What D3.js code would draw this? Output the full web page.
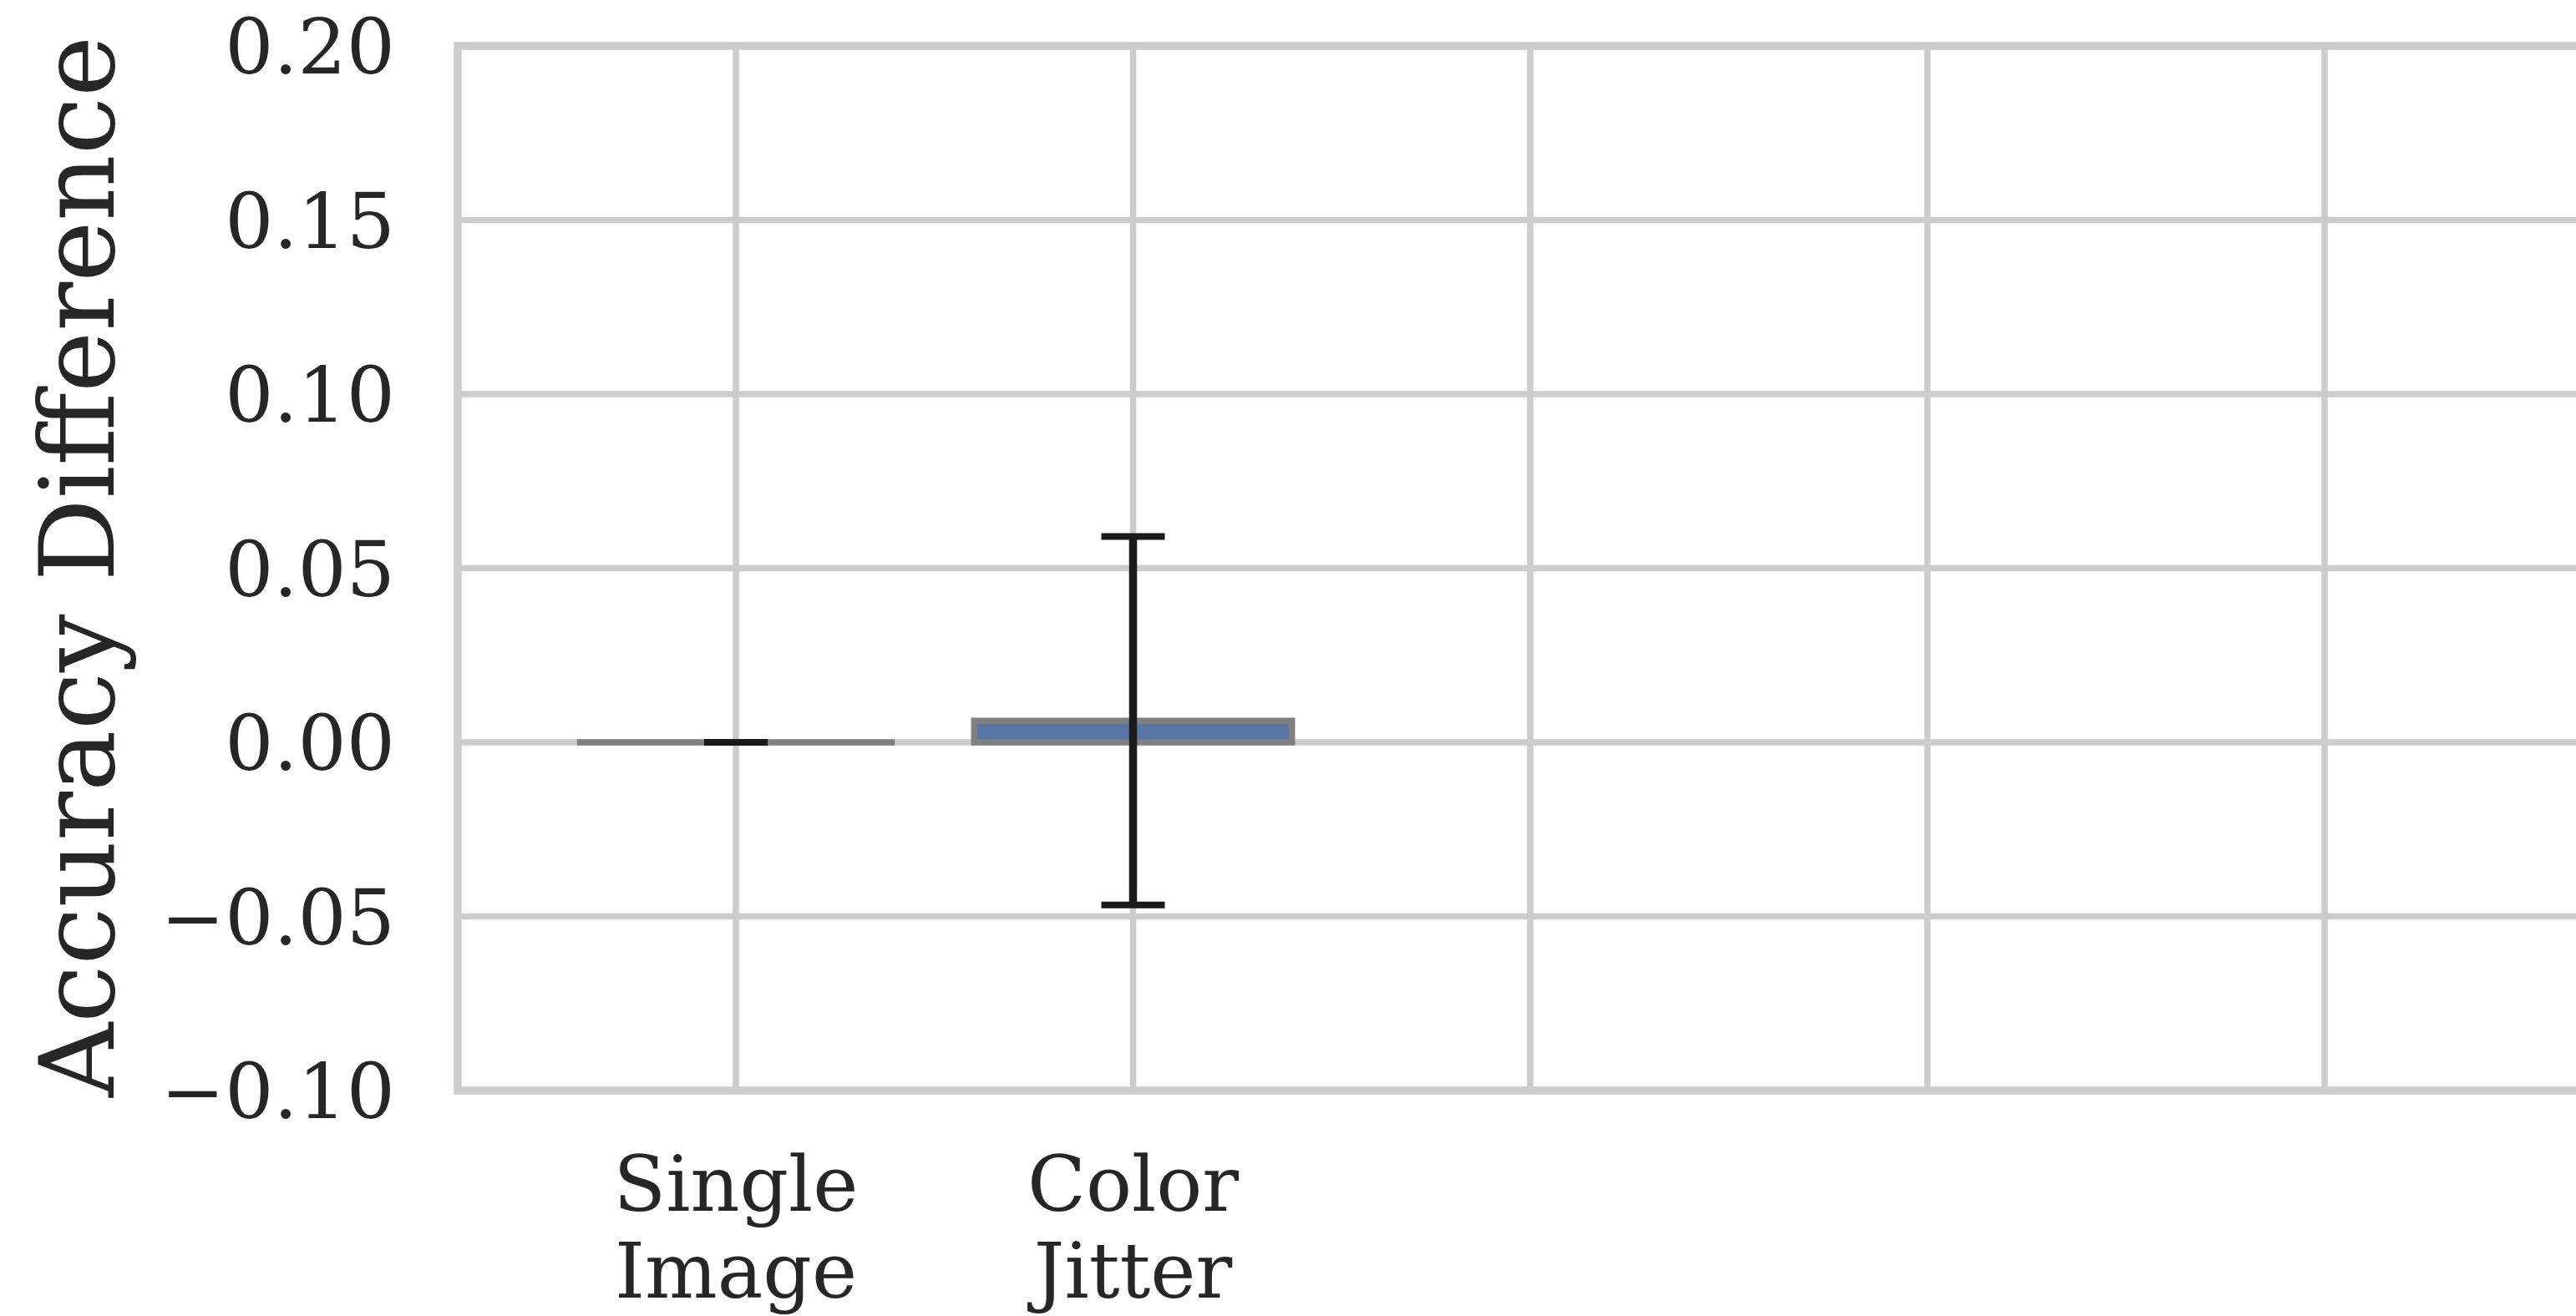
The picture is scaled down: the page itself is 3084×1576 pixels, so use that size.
<!DOCTYPE html>
<html>
<head>
<meta charset="utf-8">
<script src="https://cdn.jsdelivr.net/npm/d3@7"></script>
<style>
  html, body { margin: 0; padding: 0; background: #ffffff; }
  svg { display: block; }
</style>
</head>
<body>
<script>
// ---- data ----
const categories = ["Single Image", "Color Jitter", "cat3", "cat4", "cat5", "cat6"];
const tickLabels = ["Single\nImage", "Color\nJitter", "", "", "", ""];
const barCategories = ["Single Image", "Color Jitter"];
const barValues = [0.0, 0.0062];
const ciLow = [0.0, -0.0467];
const ciHigh = [0.0, 0.0591];
const yTicks = [-0.10, -0.05, 0.00, 0.05, 0.10, 0.15, 0.20];
const yLabel = "Accuracy Difference";

// ---- layout ----
const W = 3084, H = 1576;
const plotLeft = 548, plotTop = 55, plotBottom = 1306;
const step = 475.5;
const firstCenter = 881;
const textColor = "#262626";
const gridColor = "#cccccc";
const font = "'DejaVu Serif', serif";
const tickFont = 91.5;

const svg = d3.select("body").append("svg")
  .attr("width", W).attr("height", H)
  .style("font-family", font);

const y = d3.scaleLinear().domain([-0.10, 0.20]).range([plotBottom, plotTop]);
const bandStart = firstCenter - step * 0.5;
const x = d3.scaleBand()
  .domain(categories)
  .range([bandStart, bandStart + step * categories.length])
  .paddingInner(0.2).paddingOuter(0.1);
const plotRight = W + 20;

// grid
const grid = svg.append("g");
grid.selectAll("line.h").data(yTicks).join("line")
  .attr("x1", plotLeft).attr("x2", plotRight)
  .attr("y1", d => y(d)).attr("y2", d => y(d))
  .attr("stroke", gridColor).attr("stroke-width", 7.5);
grid.selectAll("line.v").data(categories).join("line")
  .attr("x1", d => x(d) + x.bandwidth() / 2).attr("x2", d => x(d) + x.bandwidth() / 2)
  .attr("y1", plotTop).attr("y2", plotBottom)
  .attr("stroke", gridColor).attr("stroke-width", 7.5);

// spines (left, top, bottom)
svg.append("path")
  .attr("d", `M${plotRight},${plotTop} L${plotLeft},${plotTop} L${plotLeft},${plotBottom} L${plotRight},${plotBottom}`)
  .attr("fill", "none").attr("stroke", gridColor).attr("stroke-width", 9.4)
  .attr("stroke-linecap", "square").attr("stroke-linejoin", "miter");

// bars
const bars = svg.append("g");
barCategories.forEach((c, i) => {
  const x0 = x(c), w = x.bandwidth();
  const y0 = y(0), y1 = y(barValues[i]);
  const top = Math.min(y0, y1), h = Math.abs(y0 - y1);
  bars.append("path")
    .attr("d", `M${x0},${top} h${w} v${h} h${-w} Z`)
    .attr("fill", "#5975a4")
    .attr("stroke", "#808080").attr("stroke-width", 7.5);
});

// error bars
const err = svg.append("g").attr("stroke", "#1a1a1a");
barCategories.forEach((c, i) => {
  const cx = x(c) + x.bandwidth() / 2;
  const capHalf = 38;
  err.append("line")
    .attr("x1", cx).attr("x2", cx)
    .attr("y1", y(ciLow[i])).attr("y2", y(ciHigh[i]))
    .attr("stroke-width", 9.5);
  [ciLow[i], ciHigh[i]].forEach(v => {
    err.append("line")
      .attr("x1", cx - capHalf).attr("x2", cx + capHalf)
      .attr("y1", y(v)).attr("y2", y(v))
      .attr("stroke-width", 8);
  });
});

// y tick labels
const fmt = d3.format(".2f");
svg.append("g").selectAll("text").data(yTicks).join("text")
  .attr("x", 473).attr("y", d => y(d) + 0.3645 * tickFont)
  .attr("text-anchor", "end")
  .attr("font-size", tickFont).attr("fill", textColor)
  .text(d => fmt(d));

// x tick labels
const xt = svg.append("g");
categories.forEach((c, i) => {
  const lines = tickLabels[i].split("\n").filter(s => s.length);
  const t = xt.append("text")
    .attr("x", x(c) + x.bandwidth() / 2)
    .attr("y", 1450)
    .attr("text-anchor", "middle")
    .attr("font-size", tickFont).attr("fill", textColor);
  lines.forEach((s, k) => {
    t.append("tspan").attr("x", x(c) + x.bandwidth() / 2)
      .attr("dy", k === 0 ? 0 : 104).text(s);
  });
});

// y label
svg.append("text")
  .attr("transform", `translate(136, ${(plotTop + plotBottom) / 2 - 2}) rotate(-90)`)
  .attr("text-anchor", "middle")
  .attr("font-size", 123.5).attr("fill", textColor)
  .text(yLabel);
</script>
</body>
</html>
